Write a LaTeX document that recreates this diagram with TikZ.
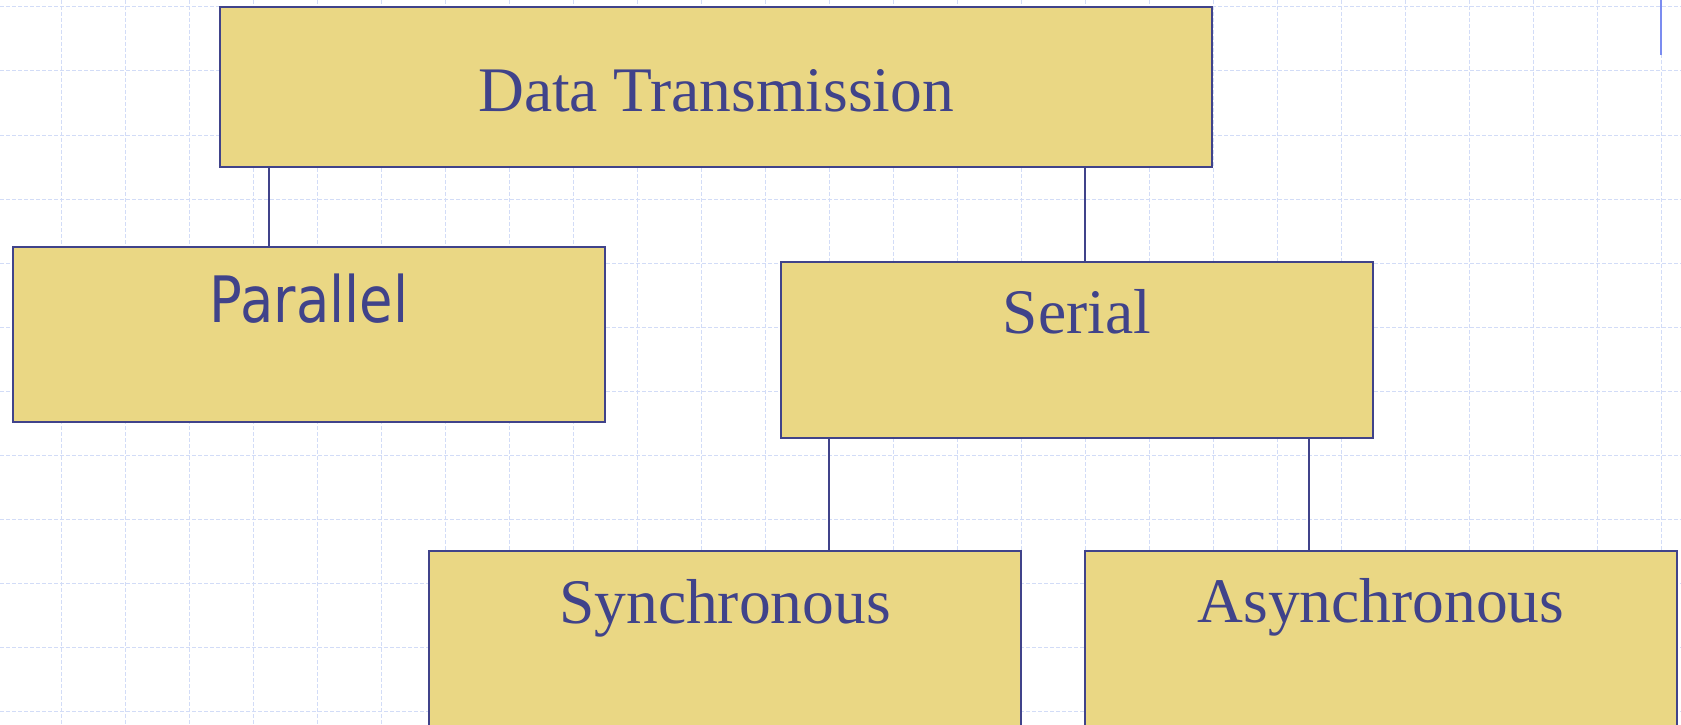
\documentclass[tikz,border=0pt]{standalone}
\usepackage{fontspec}
\setmainfont{Liberation Serif}
\newfontfamily\humanist[FakeStretch=0.85]{DejaVu Sans}
\usetikzlibrary{calc}

\definecolor{boxfill}{HTML}{EAD784}
\definecolor{ink}{HTML}{40438A}
\definecolor{gridblue}{HTML}{D2DCF7}
\definecolor{markblue}{HTML}{7B8CF0}

\tikzset{
  box/.style={draw=ink, line width=1.6pt, fill=boxfill, anchor=north west,
    inner sep=0pt, outer sep=0pt},
  serif/.style={text=ink, anchor=base, inner sep=0pt,
    font=\fontsize{63.5}{70}\selectfont},
  sans/.style={text=ink, anchor=base, inner sep=0pt,
    font=\humanist\fontsize{64}{70}\selectfont},
  link/.style={draw=ink, line width=1.6pt},
  gridline/.style={draw=gridblue, line width=1pt, dash pattern=on 4pt off 2pt}
}

\begin{document}
\begin{tikzpicture}[x=1pt, y=-1pt]
  \useasboundingbox (0,0) rectangle (1681,725);
  \clip (0,0) rectangle (1681,725);
  \fill[white] (0,0) rectangle (1681,725);

  % background grid
  \foreach \k in {1,...,26} {
    \draw[gridline] ({-3+64*\k},0) -- ({-3+64*\k},725);
  }
  \foreach \k in {0,...,11} {
    \draw[gridline] (0,{7+64*\k}) -- (1681,{7+64*\k});
  }
  \draw[draw=markblue, line width=2pt] (1661,0) -- (1661,55);

  % boxes
  \node[box, minimum width=992pt, minimum height=160pt] (dt) at (220,7) {};
  \node[box, minimum width=592pt, minimum height=175pt] (par) at (13,247) {};
  \node[box, minimum width=592pt, minimum height=176pt] (ser) at (781,262) {};
  \node[box, minimum width=592pt, minimum height=220pt] (syn) at (429,551) {};
  \node[box, minimum width=592pt, minimum height=220pt] (asy) at (1085,551) {};

  % labels
  \node[serif] (dtl) at ($(dt.north)+(0,104)$) {Data Transmission};
  \node[sans]  (parl) at ($(par.north)+(0,75)$) {Parallel};
  \node[serif] (serl) at ($(ser.north)+(0,71)$) {Serial};
  \node[serif] (synl) at ($(syn.north)+(0,72)$) {Synchronous};
  \node[serif] (asyl) at ($(asy.north)+(0,71)$) {Asynchronous};

  % connectors
  \draw[link] ([xshift=49pt]dt.south west) -- ([xshift=49pt]dt.south west |- par.north);
  \draw[link] ([xshift=865pt]dt.south west) -- ([xshift=865pt]dt.south west |- ser.north);
  \draw[link] ([xshift=48pt]ser.south west) -- ([xshift=48pt]ser.south west |- syn.north);
  \draw[link] ([xshift=528pt]ser.south west) -- ([xshift=528pt]ser.south west |- asy.north);
\end{tikzpicture}
\end{document}
